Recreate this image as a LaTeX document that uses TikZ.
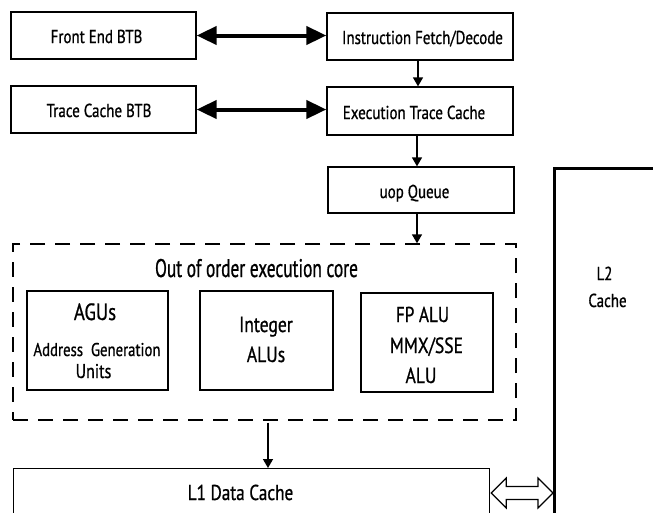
\documentclass[tikz,border=0pt]{standalone}
\usepackage{fontspec}
\setmainfont{PT Sans}[FakeStretch=0.8, FakeBold=0.8]
\newfontfamily\corefont{PT Sans}[FakeStretch=0.68, FakeBold=0.8]
\usetikzlibrary{arrows.meta,calc}

\newcommand\fsz[1]{\fontsize{#1}{#1}\selectfont}

\tikzset{
  box/.style={draw, line width=1.3pt, inner sep=0pt},
  txt/.style={anchor=base, inner sep=0pt, font=\fsz{18.7}},
  bigtxt/.style={txt, font=\fsz{22}},
  linkarrow/.style={line width=4pt, {Triangle[length=20pt,width=18pt]}-{Triangle[length=20pt,width=18pt]}},
  flowarrow/.style={line width=1.5pt, -{Triangle[length=9pt,width=10pt]}},
  corebox/.style={draw, line width=1.4pt, dash pattern=on 15pt off 10pt, inner sep=0pt},
}

\begin{document}
\begin{tikzpicture}[x=1pt,y=-1pt]
\useasboundingbox (0,0) rectangle (653,512);
\clip (0,0) rectangle (653,512);

% front end blocks
\node[box, minimum width=185pt, minimum height=47pt] (feb) at (103.5,35.5) {};
\node[box, minimum width=185pt, minimum height=47pt] (tcb) at (103.5,109.5) {};
\node[box, minimum width=186pt, minimum height=47pt] (ifd) at (420,36.5) {};
\node[box, minimum width=186pt, minimum height=48pt] (etc) at (420,111) {};
\node[box, minimum width=186pt, minimum height=46pt] (uop) at (421,190) {};

\node[txt] (febt) at (96.5,43) {Front End BTB};
\node[txt] (tcbt) at (99,117) {Trace Cache BTB};
\node[txt] (ifdt) at (422.5,44) {Instruction Fetch/Decode};
\node[txt] (etct) at (414,119) {Execution Trace Cache};
\node[txt] (uopt) at (414.5,198) {uop Queue};

% out of order core
\node[corebox, minimum width=503pt, minimum height=176pt] (core) at (264.5,332) {};
\node[txt, font=\corefont\fsz{25.5}] (coret) at (256.5,277) {Out of order execution core};

\node[box, minimum width=141pt, minimum height=99pt] (agu) at (97.5,340.5) {};
\node[box, minimum width=133pt, minimum height=99pt] (int) at (266.5,340.5) {};
\node[box, minimum width=132pt, minimum height=99pt] (fp) at (427,342.5) {};

\node[bigtxt, font=\fsz{23.5}] (agut) at (95,320) {AGUs};
\node[txt, font=\fsz{18.5}] (agut2) at (97,356) {Address\ \ Generation};
\node[txt, font=\fsz{20}] (agut3) at (93.5,378) {Units};
\node[bigtxt] (intt) at (266,332) {Integer};
\node[bigtxt] (intt2) at (266,362) {ALUs};
\node[bigtxt, font=\fsz{21.5}] (fpt) at (422.5,322) {FP ALU};
\node[bigtxt] (fpt2) at (426.5,353) {MMX/SSE};
\node[bigtxt] (fpt3) at (421,383) {ALU};

% caches
\node[box, anchor=north west, minimum width=476pt, minimum height=80pt] (l1) at (13,468) {};
\node[txt, font=\fsz{21.5}] (l1t) at (240.5,500) {L1 Data Cache};
\node[box, line width=3pt, anchor=north west, minimum width=150pt, minimum height=400pt] (l2) at (553,167) {};
\node[txt] (l2t) at (604.5,280) {L2};
\node[txt] (l2t2) at (607.5,307) {Cache};

% connections
\draw[linkarrow] (feb.east) -- (ifd.west |- feb.east);
\draw[linkarrow] (tcb.east) -- (etc.west |- tcb.east);

\coordinate (s1) at ($(ifd.south)+(-2,0)$);
\coordinate (s2) at ($(etc.south)+(-3,0)$);
\coordinate (s3) at ($(uop.south)+(-4,0)$);
\coordinate (s4) at ($(core.south)+(3.5,2)$);
\draw[flowarrow] (s1) -- (s1 |- etc.north);
\draw[flowarrow] (s2) -- (s2 |- uop.north);
\draw[flowarrow] (s3) -- (s3 |- core.north);
\draw[flowarrow] (s4) -- (s4 |- l1.north);

% hollow two-way link between L1 and L2
\coordinate (pL) at ($(l1.north east)+(1,25)$);
\coordinate (pR) at (l2.north west |- pL);
\draw[line width=1.2pt, line join=miter]
  (pL) -- ($(pL)+(15,-15)$) -- ($(pL)+(15,-6.5)$) -- ($(pR)+(-15,-6.5)$)
  -- ($(pR)+(-15,-15)$) -- (pR) -- ($(pR)+(-15,15)$) -- ($(pR)+(-15,6.5)$)
  -- ($(pL)+(15,6.5)$) -- ($(pL)+(15,15)$) -- cycle;
\end{tikzpicture}
\end{document}
